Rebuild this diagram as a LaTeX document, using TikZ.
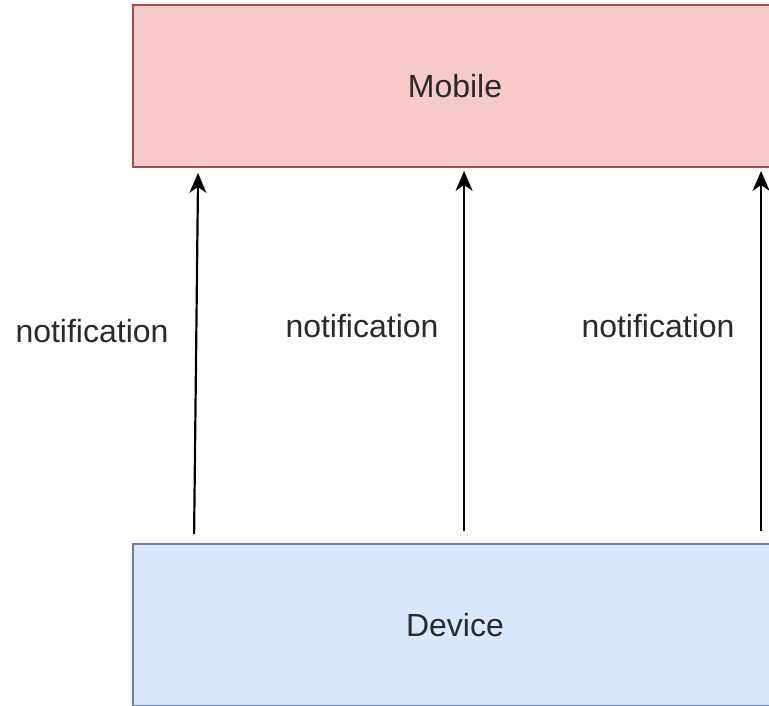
\documentclass[tikz,border=0pt]{standalone}
\usepackage{fontspec}
\setmainfont{Liberation Sans}
\usetikzlibrary{arrows.meta}
\definecolor{redfill}{HTML}{F6CACA}
\definecolor{redline}{HTML}{A0504E}
\definecolor{bluefill}{HTML}{DAE8FC}
\definecolor{blueline}{HTML}{6C7E9F}
\definecolor{txt}{HTML}{2A2A2A}
\tikzset{
  box/.style={draw, line width=1.8pt, minimum width=644pt, minimum height=162pt,
    inner sep=0pt, text=txt, font=\fontsize{32}{38}\selectfont},
  lbl/.style={text=txt, font=\fontsize{32}{38}\selectfont, inner sep=0pt},
  arr/.style={line width=2.2pt, -{Stealth[length=20pt,width=17pt,inset=6pt]}}
}
\begin{document}
\begin{tikzpicture}[x=1pt,y=-1pt]
  \useasboundingbox (0,0) rectangle (769,705);
  \clip (0,0) rectangle (769,705);
  \fill[white] (0,0) rectangle (769,705);

  \node[box, fill=redfill, draw=redline] (mobile) at (455,86) {\raisebox{-3pt}{Mobile}};
  \node[box, fill=bluefill, draw=blueline] (device) at (455,625) {\raisebox{-4pt}{Device}};

  % upward notification arrows, each ending just short of the Mobile box
  \draw[arr] ([xshift=62pt,yshift=9pt]device.north west) -- ([xshift=66pt,yshift=-5pt]mobile.south west);
  \draw[arr] ([xshift=332pt,yshift=12pt]device.north west) -- ([xshift=332pt,yshift=-3pt]mobile.south west);
  \draw[arr] ([xshift=629pt,yshift=12pt]device.north west) -- ([xshift=629pt,yshift=-3pt]mobile.south west);

  \node[lbl] (n1) at (92,331) {notification};
  \node[lbl] (n2) at (362,326) {notification};
  \node[lbl] (n3) at (658,326) {notification};
\end{tikzpicture}
\end{document}
